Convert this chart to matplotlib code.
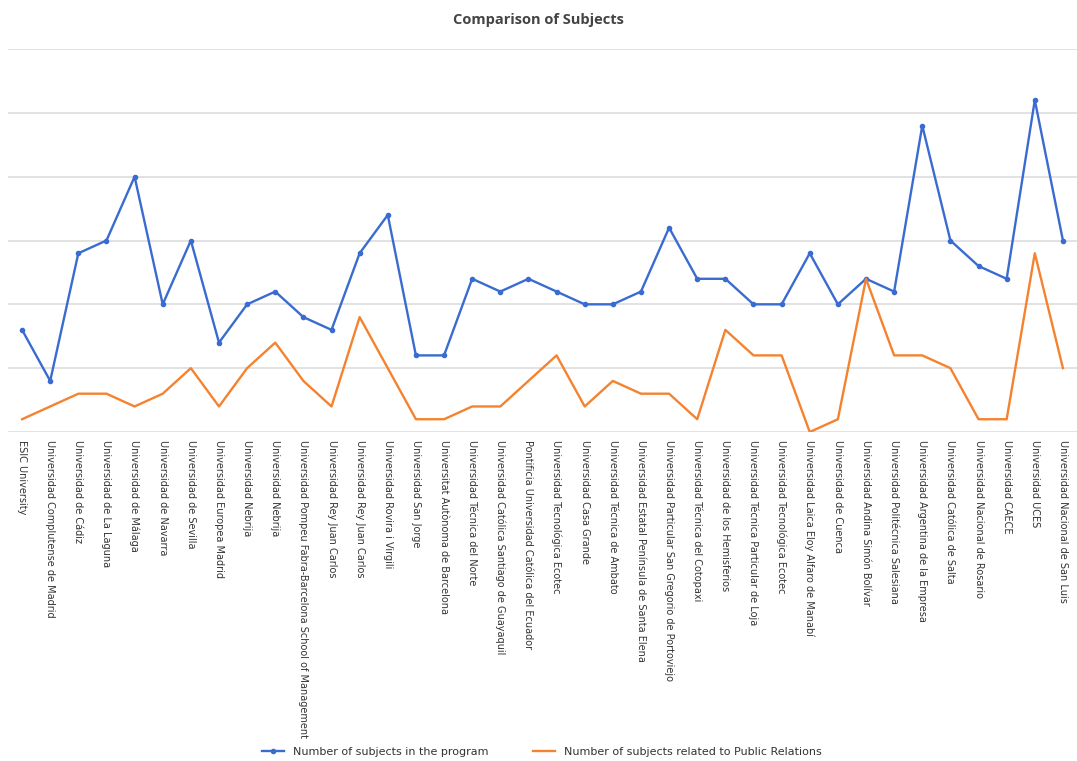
"""Comparison of subjects: total program subjects vs. PR-related subjects."""
import matplotlib
matplotlib.use("Agg")
import matplotlib.pyplot as plt
import numpy as np

UNIVERSITIES = [
    "ESIC University",
    "Universidad Complutense de Madrid",
    "Universidad de Cádiz",
    "Universidad de La Laguna",
    "Universidad de Málaga",
    "Universidad de Navarra",
    "Universidad de Sevilla",
    "Universidad Europea Madrid",
    "Universidad Nebrija",
    "Universidad Nebrija",
    "Universidad Pompeu Fabra-Barcelona School of Management",
    "Universidad Rey Juan Carlos",
    "Universidad Rey Juan Carlos",
    "Universidad Rovira i Virgili",
    "Universidad San Jorge",
    "Universitat Autònoma de Barcelona",
    "Universidad Técnica del Norte",
    "Universidad Católica Santiago de Guayaquil",
    "Pontificia Universidad Católica del Ecuador",
    "Universidad Tecnológica Ecotec",
    "Universidad Casa Grande",
    "Universidad Técnica de Ambato",
    "Universidad Estatal Península de Santa Elena",
    "Universidad Particular San Gregorio de Portoviejo",
    "Universidad Técnica del Cotopaxi",
    "Universidad de los Hemisferios",
    "Universidad Técnica Particular de Loja",
    "Universidad Tecnológica Ecotec",
    "Universidad Laica Eloy Alfaro de Manabí",
    "Universidad de Cuenca",
    "Universidad Andina Simón Bolívar",
    "Universidad Politécnica Salesiana",
    "Universidad Argentina de la Empresa",
    "Universidad Católica de Salta",
    "Universidad Nacional de Rosario",
    "Universidad CAECE",
    "Universidad UCES",
    "Universidad Nacional de San Luis",
]

program_subjects = [8, 4, 14, 15, 20, 10, 15, 7, 10, 11, 9, 8, 14, 17, 6, 6,
                    12, 11, 12, 11, 10, 10, 11, 16, 12, 12, 10, 10, 14, 10,
                    12, 11, 24, 15, 13, 12, 26, 15]
pr_subjects = [1, 2, 3, 3, 2, 3, 5, 2, 5, 7, 4, 2, 9, 5, 1, 1,
               2, 2, 4, 6, 2, 4, 3, 3, 1, 8, 6, 6, 0, 1,
               12, 6, 6, 5, 1, 1, 14, 5]

BLUE = "#3a6bd0"
ORANGE = "#f5822e"

fig = plt.figure(figsize=(10.77, 7.61), dpi=100)
ax = fig.add_axes([8 / 1077, 1 - 432 / 761, 1 - 8 / 1077, (432 - 49) / 761])

x = np.arange(len(UNIVERSITIES))
ax.plot(x, program_subjects, color=BLUE, linewidth=1.7, marker="o",
        markersize=3, label="Number of subjects in the program", zorder=3)
ax.plot(x, pr_subjects, color=ORANGE, linewidth=1.7,
        label="Number of subjects related to Public Relations", zorder=3)

ax.set_xlim(-0.5, len(UNIVERSITIES) - 0.5)
ax.set_ylim(0, 30)
ax.set_yticks(np.arange(0, 31, 5))
ax.set_yticklabels([])
ax.grid(axis="y", color="#dddddd", linewidth=1.2)
ax.set_axisbelow(True)
for s in ax.spines.values():
    s.set_visible(False)
ax.tick_params(axis="both", length=0)

ax.set_xticks(x)
ax.set_xticklabels(UNIVERSITIES, rotation=270, fontsize=7,
                   color="#333333", va="top", ha="center")
ax.tick_params(axis="x", pad=6)

fig.text(0.5, 1 - 20 / 761, "Comparison of Subjects", ha="center",
         va="center", fontsize=10.5, fontweight="bold", color="#444444",
         family="Open Sans")

fig.legend(loc="lower center", bbox_to_anchor=(0.503, -0.004), ncol=2,
           frameon=False, fontsize=8, handlelength=2.0, columnspacing=4,
           borderpad=0.1, labelcolor="#333333")

fig.savefig("out.png", dpi=100)
